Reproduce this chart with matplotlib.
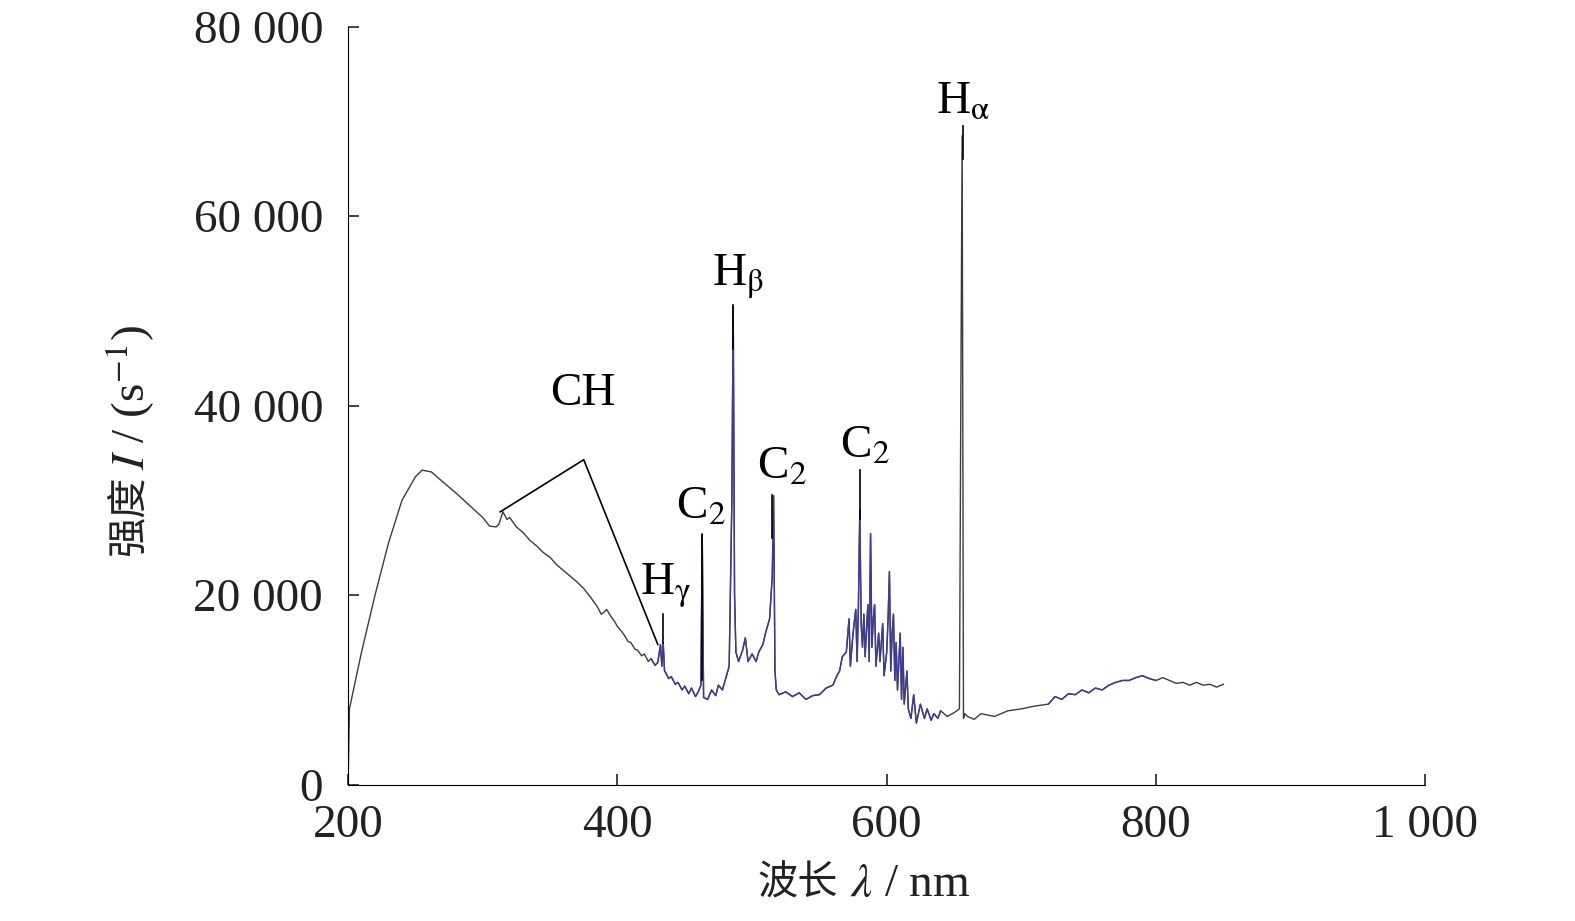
import matplotlib
matplotlib.use("Agg")
import matplotlib.pyplot as plt
import numpy as np

plt.rcParams['font.family'] = ['Liberation Serif', 'Noto Sans CJK SC']
plt.rcParams['mathtext.fontset'] = 'stix'

wl = [200, 201, 210, 220, 230, 240, 250, 255, 262, 270, 280, 290, 300, 305, 310, 312, 315, 318, 320, 325, 330, 335, 340,
      345, 350, 355, 360, 365, 370, 375, 380, 385, 388, 390, 392, 395, 398, 400, 403, 405, 408, 410, 413, 415, 418, 420, 423, 425, 428, 430, 432, 433, 434, 435,
      436, 438, 440, 443, 445, 448, 450, 453, 455, 458, 460, 462, 463, 464, 467, 470, 473, 475, 478, 480, 483, 485, 486, 487, 488, 490, 493,
      495, 497, 500, 503, 505, 508, 510, 513, 515, 516, 517, 518, 520, 525, 530, 535, 540, 545, 550, 555, 560, 563, 565, 567, 570, 572, 573, 575, 577, 578,
      579, 580, 581, 582, 583, 584, 585, 586, 587, 588, 589, 590, 591, 592, 594, 595, 597, 598, 600, 601, 602, 603, 604, 605, 606, 607, 608, 610, 611, 612, 613, 615,
      616, 618, 620, 622, 625, 628, 630, 633, 635, 638, 640, 645, 650, 654, 655, 656, 657, 658, 660, 665, 670, 680, 690, 700, 710, 720, 725, 730, 735,
      740, 745, 750, 755, 760, 765, 770, 775, 780, 785, 790, 795, 800, 805, 810, 815, 820, 825, 830, 835, 840, 845, 850]
inten = [0, 8000, 14000, 20000, 25500, 30000, 32500, 33200, 33000, 32000, 30800, 29500, 28200, 27300, 27200, 27500, 28800, 28000, 28200, 27200, 26600, 25800, 25200,
         24500, 24000, 23200, 22600, 22000, 21400, 20700, 19800, 18800, 18000, 18200, 18500, 17800, 17200, 16700, 16200, 15800, 15100, 15000, 14300, 14200, 13600, 13800, 13000, 13300, 12600, 12900, 14800, 12500, 15000, 12000,
         11800, 11200, 11400, 10600, 10800, 10000, 10400, 9600, 10200, 9300, 9800, 10500, 26500, 9200, 9000, 10000, 9400, 10500, 10000, 11000, 12500, 30000, 50500, 20000, 14000, 13000, 14200,
         15500, 13000, 13800, 13000, 14000, 14800, 16000, 17500, 22000, 30500, 12000, 10000, 9500, 9800, 9300, 9700, 9000, 9400, 9500, 10200, 10500, 11500, 12000, 13500, 14000, 17500, 12500, 16000, 18500, 13000,
         19000, 29000, 17000, 14500, 18000, 13500, 16500, 19000, 13000, 26500, 14500, 17500, 19000, 12500, 16000, 13000, 17000, 11500, 14000, 17500, 22500, 12000, 16000, 18000, 11000, 15000, 10000, 16000, 9000, 14500, 8500, 12000,
         8000, 7000, 9500, 6500, 8500, 7000, 8000, 6800, 7500, 7000, 7800, 7200, 7600, 8000, 40000, 68500, 7000, 7500, 7200, 6900, 7500, 7200, 7800, 8000, 8300, 8500, 9300, 9000, 9600,
         9500, 10000, 9700, 10200, 10000, 10500, 10800, 11000, 11000, 11300, 11500, 11200, 11000, 11300, 11000, 10700, 10800, 10500, 10800, 10500, 10600, 10300, 10600]

wl = np.array(wl, float); inten = np.array(inten, float)

fig = plt.figure(figsize=(15.75, 9.21), dpi=100)
ax = fig.add_axes([0.221, 0.148, 0.684, 0.823])
ax.plot(wl, inten, color='#3c3c3c', lw=1.0)
for lo, hi in [(425, 640), (720, 800)]:
    m = (wl >= lo) & (wl <= hi)
    ax.plot(wl[m], inten[m], color='#3d3a9c', lw=1.0)

ax.set_xlim(200, 1000)
ax.set_ylim(0, 80000)
ax.set_xticks([200, 400, 600, 800, 1000])
ax.set_xticklabels(['200', '400', '600', '800', '1 000'])
ax.set_yticks([0, 20000, 40000, 60000, 80000])
ax.set_yticklabels(['0', '20 000', '40 000', '60 000', '80 000'])
for s in ['top', 'right']:
    ax.spines[s].set_visible(False)
ax.tick_params(direction='in', labelsize=34, length=8, width=1.2, colors='#222222')
ax.tick_params(axis='x', pad=14)
ax.tick_params(axis='y', pad=18)

fig.text(838 / 1575, 1 - 885 / 921, '波长', fontsize=29, ha='right', va='center', color='#222222')
fig.text(850 / 1575, 1 - 885 / 921, r'$\lambda$ / nm', fontsize=34, ha='left', va='center', color='#222222')
fig.text(130 / 1575, 1 - 475 / 921, '强度', fontsize=29, ha='center', va='top', rotation=90, color='#222222')
fig.text(130 / 1575, 1 - 470 / 921, r'$I$ / (s$^{-1}$)', fontsize=34, ha='center', va='bottom', rotation=90, color='#222222')

kw = dict(color='black', lw=1.2)
fs = 34
ax.plot([656.5, 656.5], [66000, 69500], **kw)
ax.text(656.5, 69800, r'H$_{\mathrm{α}}$', fontsize=fs, ha='center', va='bottom')
ax.plot([485.5, 485.5], [46000, 50600], **kw)
ax.text(490, 51000, r'H$_{\mathrm{β}}$', fontsize=fs, ha='center', va='bottom')
ax.plot([433.5, 433.5], [15000, 18000], **kw)
ax.text(436, 18400, r'H$_{\mathrm{γ}}$', fontsize=fs, ha='center', va='bottom')
ax.plot([463, 463], [11000, 26400], **kw)
ax.text(462, 27000, r'C$_2$', fontsize=fs, ha='center', va='bottom')
ax.plot([515, 515], [26000, 30600], **kw)
ax.text(522, 31200, r'C$_2$', fontsize=fs, ha='center', va='bottom')
ax.plot([580, 580], [28000, 33200], **kw)
ax.text(584, 33500, r'C$_2$', fontsize=fs, ha='center', va='bottom')
ax.plot([313, 375, 430], [28800, 34300, 14800], **kw)
ax.text(374, 39000, 'CH', fontsize=fs, ha='center', va='bottom')

fig.savefig('out.png', dpi=100)
